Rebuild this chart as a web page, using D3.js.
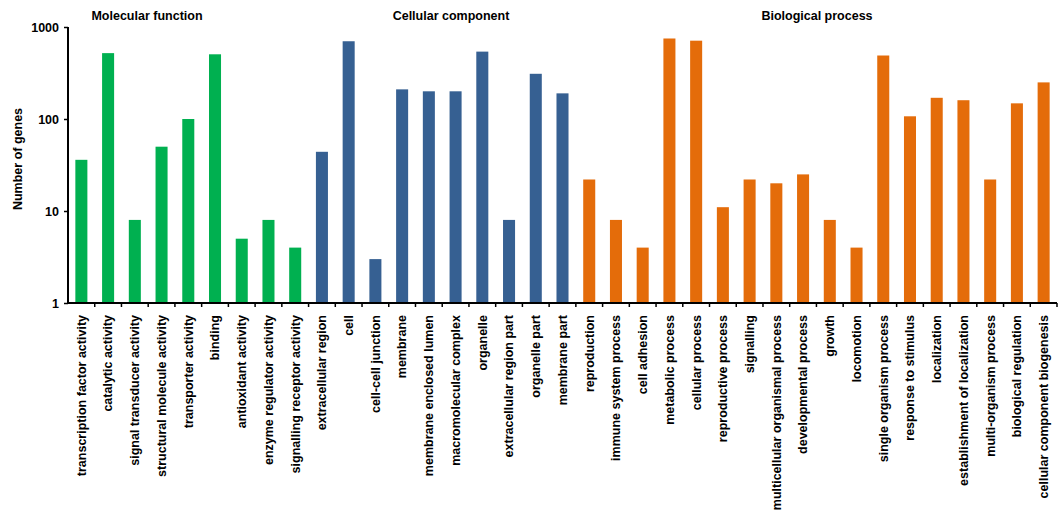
<!DOCTYPE html>
<html>
<head>
<meta charset="utf-8">
<script src="https://cdn.jsdelivr.net/npm/d3@7"></script>
<style>
  html, body { margin: 0; padding: 0; background: #fff; }
  svg { display: block; font-family: "Liberation Sans", Arial, sans-serif; }
</style>
</head>
<body>
<svg id="chart" width="1060" height="513"></svg>
<script>
// GO annotation counts per term, grouped by ontology
const molecularFunction = [
  "transcription factor activity", "catalytic activity", "signal transducer activity",
  "structural molecule activity", "transporter activity", "binding",
  "antioxidant activity", "enzyme regulator activity", "signalling receptor activity"
];
const molecularFunctionCounts = [36, 520, 8, 50, 100, 505, 5, 8, 4];

const cellularComponent = [
  "extracellular region", "cell", "cell-cell junction", "membrane",
  "membrane enclosed lumen", "macromolecular complex", "organelle",
  "extracellular region part", "organelle part", "membrane part"
];
const cellularComponentCounts = [44, 700, 3, 210, 200, 200, 540, 8, 310, 190];

const biologicalProcess = [
  "reproduction", "immune system process", "cell adhesion", "metabolic process",
  "cellular process", "reproductive process", "signalling",
  "multicellular organismal process", "developmental process", "growth",
  "locomotion", "single organism process", "response to stimulus", "localization",
  "establishment of localization", "multi-organism process", "biological regulation",
  "cellular component biogenesis"
];
const biologicalProcessCounts = [22, 8, 4, 750, 710, 11, 22, 20, 25, 8, 4, 490, 107, 170, 160, 22, 148, 250];

const groupNames = ["Molecular function", "Cellular component", "Biological process"];
const groupColors = ["#00b050", "#366092", "#e46c0a"];
const yTickValues = [1, 10, 100, 1000];
const yTitle = "Number of genes";

// Build the flat record list used for drawing
const groups = [
  { name: groupNames[0], terms: molecularFunction, counts: molecularFunctionCounts, color: groupColors[0] },
  { name: groupNames[1], terms: cellularComponent, counts: cellularComponentCounts, color: groupColors[1] },
  { name: groupNames[2], terms: biologicalProcess, counts: biologicalProcessCounts, color: groupColors[2] }
];
const records = [];
groups.forEach(g => g.terms.forEach((t, i) => records.push({ term: t, value: g.counts[i], group: g.name, color: g.color })));

const svg = d3.select("#chart");
const margin = { left: 68, right: 3, top: 27, bottom: 210 };
const width = 1060, height = 513;
const plotBottom = height - margin.bottom;

const x = d3.scaleBand()
  .domain(records.map(d => d.term))
  .range([margin.left, width - margin.right])
  .paddingInner(0.55)
  .paddingOuter(0.275);

const y = d3.scaleLog()
  .domain([1, 1000])
  .range([plotBottom, margin.top]);

// Bars
svg.append("g")
  .selectAll("rect")
  .data(records)
  .join("rect")
  .attr("x", d => x(d.term))
  .attr("y", d => y(d.value))
  .attr("width", x.bandwidth())
  .attr("height", d => plotBottom - y(d.value))
  .attr("fill", d => d.color);

// Y axis
const yAxis = svg.append("g")
  .attr("transform", `translate(${margin.left},0)`)
  .call(d3.axisLeft(y).tickValues(yTickValues).tickFormat(d3.format("d")).tickSize(4).tickPadding(5));
yAxis.select(".domain").attr("stroke", "#000").attr("stroke-width", 2).attr("d", `M0,${margin.top}V${plotBottom}`);
yAxis.selectAll(".tick line").attr("stroke", "#000").attr("stroke-width", 1.5);
yAxis.selectAll(".tick text")
  .attr("fill", "#000")
  .style("font-size", "12.5px")
  .style("font-weight", "bold");

// X axis: tick labels at band centres, tick marks on band boundaries
const xAxis = svg.append("g")
  .attr("transform", `translate(0,${plotBottom})`)
  .call(d3.axisBottom(x).tickSize(0).tickPadding(0));
xAxis.select(".domain").remove();
xAxis.selectAll(".tick text")
  .attr("fill", "#000")
  .attr("transform", "rotate(-90)")
  .attr("text-anchor", "end")
  .attr("x", -12)
  .attr("y", 0)
  .attr("dy", "0.35em")
  .style("font-size", "12.5px")
  .style("font-weight", "bold");

const step = x.step();
const boundaries = d3.range(records.length + 1).map(i => margin.left + i * step);
svg.append("g")
  .selectAll("line")
  .data(boundaries.slice(1))
  .join("line")
  .attr("x1", d => d).attr("x2", d => d)
  .attr("y1", plotBottom).attr("y2", plotBottom + 4)
  .attr("stroke", "#000").attr("stroke-width", 1.5);
svg.append("line")
  .attr("x1", margin.left - 1).attr("x2", width - margin.right)
  .attr("y1", plotBottom).attr("y2", plotBottom)
  .attr("stroke", "#000").attr("stroke-width", 2);

// Group titles above their categories
const titleCenters = [147, 451, 817];
groups.forEach((g, i) => {
  svg.append("text")
    .attr("x", titleCenters[i])
    .attr("y", 20)
    .attr("text-anchor", "middle")
    .style("font-size", "12.5px")
    .style("font-weight", "bold")
    .text(g.name);
});

// Y axis title
svg.append("text")
  .attr("transform", `translate(22,${(margin.top + plotBottom) / 2 - 6}) rotate(-90)`)
  .attr("text-anchor", "middle")
  .style("font-size", "12.5px")
  .style("font-weight", "bold")
  .text(yTitle);
</script>
</body>
</html>
